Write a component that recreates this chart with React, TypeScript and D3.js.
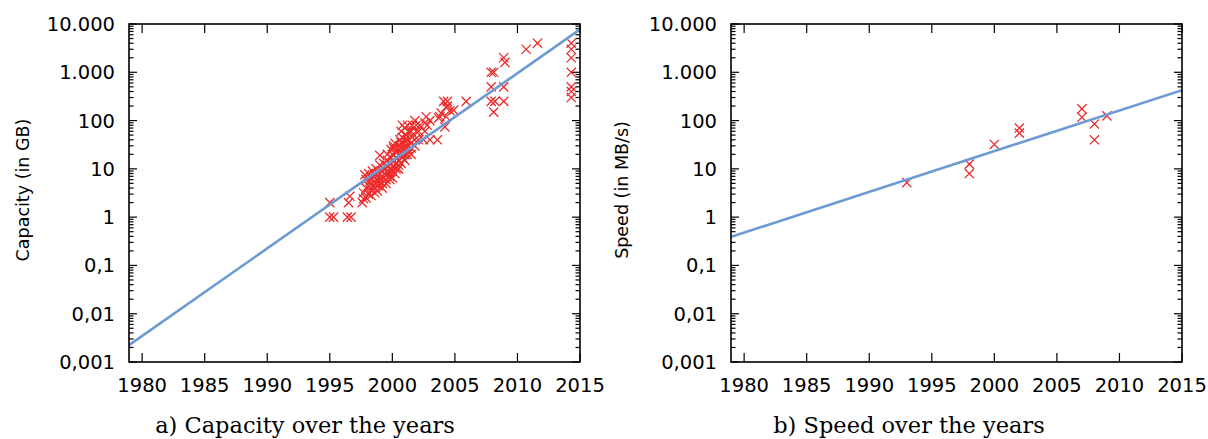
import React, { useEffect, useRef } from 'react'
import * as d3 from 'd3'

type Point = [number, number]

const yearTicks = [1980, 1985, 1990, 1995, 2000, 2005, 2010, 2015]
const decadeTicks = [0.001, 0.01, 0.1, 1, 10, 100, 1000, 10000]
const decadeLabels = ['0,001', '0,01', '0,1', '1', '10', '100', '1.000', '10.000']
const yearDomain: [number, number] = [1978.95, 2015]
const valueDomain: [number, number] = [0.001, 10000]

// [year, GB]
const capacityPoints: Point[] = [
  [1995.0, 2], [1995.0, 1], [1995.3, 1],
  [1996.4, 1], [1996.7, 1], [1996.5, 2], [1996.6, 2.7],
  [1997.6, 2], [1997.7, 2.4], [1997.7, 3.2],
  [1997.9, 2.5], [1997.9, 4], [1997.9, 6], [1997.8, 7.5],
  [1998.1, 3], [1998.1, 4.5], [1998.2, 5.5], [1998.1, 8],
  [1998.3, 2.8], [1998.3, 3.6], [1998.4, 4.3], [1998.3, 6.5], [1998.4, 9],
  [1998.6, 3.2], [1998.6, 4], [1998.6, 5], [1998.7, 6], [1998.6, 7.5], [1998.7, 10],
  [1998.8, 3.5], [1998.9, 4.5], [1998.9, 5.5], [1998.9, 8], [1999.0, 6.5], [1999.0, 12], [1999.0, 19],
  [1999.2, 4], [1999.2, 5], [1999.3, 6.4], [1999.2, 8.6], [1999.3, 10], [1999.3, 13],
  [1999.5, 5], [1999.5, 6], [1999.5, 7.5], [1999.6, 9], [1999.5, 12], [1999.6, 15], [1999.6, 20],
  [1999.8, 6], [1999.8, 7], [1999.8, 8.4], [1999.9, 10], [1999.8, 13], [1999.9, 17], [1999.9, 25],
  [2000.0, 6.5], [2000.0, 9], [2000.1, 11], [2000.1, 14], [2000.0, 20], [2000.1, 27], [2000.1, 30],
  [2000.2, 8], [2000.3, 10], [2000.3, 13], [2000.3, 17], [2000.3, 22], [2000.2, 34],
  [2000.5, 10], [2000.5, 12], [2000.5, 15], [2000.6, 20], [2000.5, 25], [2000.6, 30], [2000.6, 40],
  [2000.7, 13], [2000.8, 17], [2000.8, 20], [2000.8, 27], [2000.7, 35], [2000.8, 45], [2000.7, 60], [2000.8, 80],
  [2001.0, 15], [2001.0, 20], [2001.0, 25], [2001.1, 30], [2001.0, 40], [2001.1, 50], [2001.0, 70],
  [2001.2, 20], [2001.3, 25], [2001.3, 30], [2001.2, 40], [2001.3, 60], [2001.2, 80],
  [2001.5, 20], [2001.5, 27], [2001.5, 35], [2001.6, 45], [2001.5, 60], [2001.6, 80],
  [2001.8, 30], [2001.8, 40], [2001.9, 60], [2001.9, 80], [2001.8, 100],
  [2002.1, 40], [2002.1, 60], [2002.2, 80],
  [2002.5, 40], [2002.6, 60], [2002.6, 90], [2002.7, 120], [2002.8, 80],
  [2003.0, 40], [2003.0, 100],
  [2003.6, 40], [2003.7, 113], [2003.9, 143], [2003.8, 120],
  [2004.1, 250], [2004.3, 190], [2004.2, 74], [2004.4, 250], [2004.4, 200],
  [2004.3, 120], [2004.9, 165], [2004.6, 160],
  [2005.9, 250],
  [2007.9, 1000], [2008.1, 1000], [2007.9, 500], [2008.9, 500],
  [2007.9, 250], [2008.2, 250], [2008.9, 250], [2008.1, 150],
  [2008.9, 2000], [2009.0, 1600], [2010.7, 3000], [2011.6, 4000],
  [2014.3, 4000], [2014.3, 3000], [2014.3, 2000], [2014.3, 1000],
  [2014.3, 500], [2014.3, 400], [2014.3, 300],
]

// [year, MB/s]
const speedPoints: Point[] = [
  [1993, 5.2],
  [1998, 12.5], [1998, 8],
  [2000, 32],
  [2002, 70], [2002, 55],
  [2007, 175], [2007, 117],
  [2008, 85], [2008, 40],
  [2009, 125],
]

// log10(value) = intercept + slope * (year - 1979)
const capacityFit = { intercept: -2.642, slope: 0.1814 }
const speedFit = { intercept: -0.404, slope: 0.0843 }

const panels = [
  { points: capacityPoints, fit: capacityFit, label: 'Capacity (in GB)', caption: 'a) Capacity over the years' },
  { points: speedPoints, fit: speedFit, label: 'Speed (in MB/s)', caption: 'b) Speed over the years' },
]

const layout = [
  { left: 129, labelX: 29, captionX: 305 },
  { left: 731, labelX: 628, captionX: 909 },
]

const TOP = 24
const W = 451
const H = 338
const RED = '#ee2b2b'
const BLUE = '#6b9bd2'
const SANS = '"DejaVu Sans", sans-serif'
const SERIF = '"DejaVu Serif", serif'

const App = () => {
  const svgRef = useRef<SVGSVGElement | null>(null)

  useEffect(() => {
    if (!svgRef.current) return
    const svg = d3.select(svgRef.current)
    svg.selectAll('*').remove()

    panels.forEach((panel, i) => {
      const { left, labelX, captionX } = layout[i]
      const g = svg.append('g').attr('transform', `translate(${left},${TOP})`)

      const x = d3.scaleLinear().domain(yearDomain).range([0, W])
      const y = d3.scaleLog().domain(valueDomain).range([H, 0])

      const clipId = `clip-${i}`
      svg.append('defs').append('clipPath').attr('id', clipId)
        .append('rect').attr('x', 0).attr('y', 0).attr('width', W).attr('height', H)

      // minor ticks 2..9 per decade
      const minors: number[] = []
      decadeTicks.slice(0, -1).forEach(d => {
        for (let k = 2; k <= 9; k++) minors.push(d * k)
      })

      const ticks = g.append('g').attr('stroke', '#000').attr('stroke-width', 1.2)
      ticks.selectAll('.minor-l').data(minors).enter().append('line')
        .attr('x1', 0).attr('x2', 4.5).attr('y1', d => y(d)).attr('y2', d => y(d))
      ticks.selectAll('.minor-r').data(minors).enter().append('line')
        .attr('x1', W).attr('x2', W - 4.5).attr('y1', d => y(d)).attr('y2', d => y(d))
      ticks.selectAll('.major-l').data(decadeTicks).enter().append('line')
        .attr('x1', 0).attr('x2', 8).attr('y1', d => y(d)).attr('y2', d => y(d))
      ticks.selectAll('.major-r').data(decadeTicks).enter().append('line')
        .attr('x1', W).attr('x2', W - 8).attr('y1', d => y(d)).attr('y2', d => y(d))
      ticks.selectAll('.major-b').data(yearTicks).enter().append('line')
        .attr('x1', d => x(d)).attr('x2', d => x(d)).attr('y1', H).attr('y2', H - 9)
      ticks.selectAll('.major-t').data(yearTicks).enter().append('line')
        .attr('x1', d => x(d)).attr('x2', d => x(d)).attr('y1', 0).attr('y2', 9)

      g.append('g').selectAll('text').data(decadeTicks).enter().append('text')
        .attr('x', -14).attr('y', d => y(d)).attr('dy', '0.36em')
        .attr('text-anchor', 'end')
        .style('font-family', SANS).style('font-size', '19.5px').style('fill', '#000')
        .text((d, j) => decadeLabels[j])

      g.append('g').selectAll('text').data(yearTicks).enter().append('text')
        .attr('x', d => x(d)).attr('y', H + 30)
        .attr('text-anchor', 'middle')
        .style('font-family', SANS).style('font-size', '19.5px').style('fill', '#000')
        .text(d => String(d))

      svg.append('text')
        .attr('transform', `translate(${labelX},${TOP + H / 2 - 3}) rotate(-90)`)
        .attr('text-anchor', 'middle')
        .style('font-family', SANS).style('font-size', '17.5px').style('fill', '#000')
        .text(panel.label)

      svg.append('text')
        .attr('x', captionX).attr('y', 433)
        .attr('text-anchor', 'middle')
        .style('font-family', SERIF).style('font-size', '22.5px').style('fill', '#000')
        .text(panel.caption)

      // data crosses
      const s = 4.6
      g.append('g').selectAll('path').data(panel.points).enter().append('path')
        .attr('transform', d => `translate(${x(d[0])},${y(d[1])})`)
        .attr('d', `M${-s},${-s}L${s},${s}M${-s},${s}L${s},${-s}`)
        .style('fill', 'none').style('stroke', RED).style('stroke-width', 1.3)

      // regression line
      const fitValue = (t: number) => Math.pow(10, panel.fit.intercept + panel.fit.slope * (t - 1979))
      const line = d3.line<number>().x(t => x(t)).y(t => y(fitValue(t)))
      g.append('path')
        .datum(yearDomain)
        .attr('clip-path', `url(#${clipId})`)
        .attr('d', line)
        .style('fill', 'none').style('stroke', BLUE).style('stroke-width', 2.6)

      g.append('rect')
        .attr('x', 0).attr('y', 0).attr('width', W).attr('height', H)
        .style('fill', 'none').style('stroke', '#000').style('stroke-width', 1.6)
    })
  }, [])

  return (
    <svg ref={svgRef} width={1208} height={439}
      style={{ position: 'absolute', left: 0, top: 0, background: '#fff' }} />
  )
}

export default App
